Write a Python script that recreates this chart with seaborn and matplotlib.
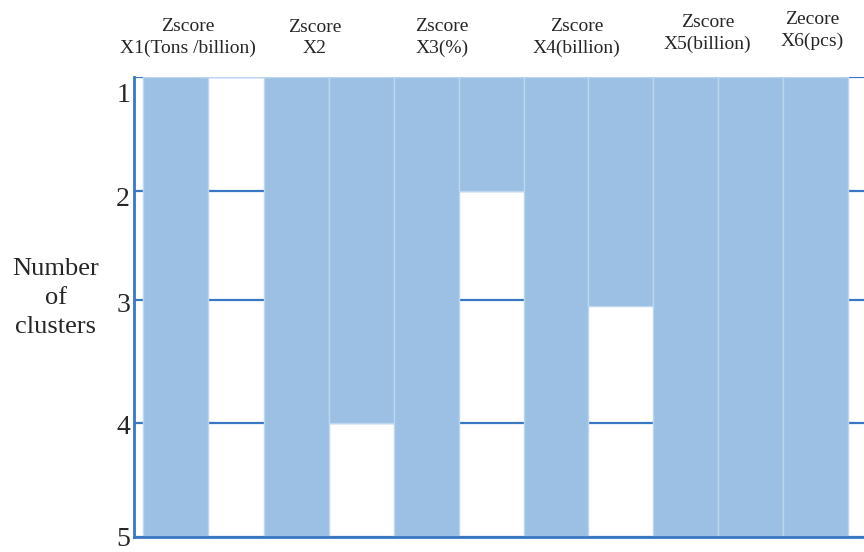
import matplotlib
matplotlib.use("Agg")
import matplotlib.pyplot as plt
import matplotlib.transforms as mtransforms
import seaborn as sns
import numpy as np
import pandas as pd

# Icicle plot of hierarchical clustering: variable columns alternate with
# join columns; each value is the cluster count down to which the column is filled.
columns = ["X1", "X1|X2", "X2", "X2|X3", "X3", "X3|X4", "X4", "X4|X5", "X5", "X5|X6", "X6"]
fill_to = [5, 1, 5, 4, 5, 2, 5, 3.05, 5, 5, 5]

header_labels = [
    "Zscore\nX1(Tons /billion)",
    "Zscore\nX2",
    "Zscore\nX3(%)",
    "Zscore\nX4(billion)",
    "Zscore\nX5(billion)",
    "Zecore\nX6(pcs)",
]
cluster_levels = [1, 2, 3, 4, 5]

df = pd.DataFrame({"column": columns, "level": fill_to})

sns.set_theme(style="white")
plt.rcParams["font.family"] = ["Liberation Serif", "DejaVu Serif"]

fig = plt.figure(figsize=(8.64, 5.52), dpi=100)
ax = fig.add_axes([134 / 864, 1 - 537 / 552, 1 - 134 / 864, (537 - 77) / 552])

line_blue = "#3877C2"
fill_blue = "#9BC0E3"

# row spacing of the icicle is not quite even: piecewise-linear level scale
level_rows = np.array([0.0, 114.0, 223.0, 346.0, 460.0])
levels_arr = np.array(cluster_levels, dtype=float)


def _fwd(v):
    return np.interp(v, levels_arr, level_rows)


def _inv(v):
    return np.interp(v, level_rows, levels_arr)


ax.set_yscale("function", functions=(_fwd, _inv))

sns.barplot(data=df, x="column", y="level", order=columns, width=1.0,
            color=fill_blue, saturation=1, edgecolor="#BCD6EF", linewidth=1.0,
            ax=ax, zorder=3)

# the first variable column sits a little further from the axis
first_col_nudge = 0.136
first_bar = ax.patches[0]
first_bar.set_x(first_bar.get_x() + first_col_nudge)

ax.set_ylim(5, 1)
ax.set_xlim(-0.503, 10.747)
ax.set_yticks(cluster_levels)
ax.set_yticks([], minor=True)
ax.set_yticklabels([])
ax.set_xticks([])
ax.set_xlabel("")
ax.set_ylabel("")

# level labels, set a little below their gridlines
label_drop_px = [18, 9, 5, 5, 2]
for level, drop in zip(cluster_levels, label_drop_px):
    tr = mtransforms.offset_copy(ax.get_yaxis_transform(), fig=fig,
                                 x=-4, y=-drop, units="dots")
    ax.text(0, level, str(level), transform=tr, ha="right", va="center",
            fontsize=20, clip_on=False)

ax.grid(axis="y", which="major", color=line_blue, linewidth=1.6, zorder=1)
ax.set_axisbelow(True)
for side in ["top", "right"]:
    ax.spines[side].set_visible(False)
for side in ["left", "bottom"]:
    ax.spines[side].set_color(line_blue)
    ax.spines[side].set_linewidth(2.0)
    ax.spines[side].set_zorder(4)
ax.tick_params(axis="y", which="both", length=0, left=False)

# Variable headers above their columns
header_x = [0.329, 2.286, 4.243, 6.32, 8.34, 9.945]
header_y = [1.052, 1.052, 1.052, 1.052, 1.061, 1.0675]
for hx, hy, text in zip(header_x, header_y, header_labels):
    ax.text(hx, hy, text, transform=ax.get_xaxis_transform(), ha="center",
            va="baseline", fontsize=14, linespacing=1.33, clip_on=False)

fig.text(56 / 864, 1 - 298 / 552, "Number\nof\nclusters", ha="center",
         va="center", fontsize=19, linespacing=1.44)

fig.savefig("out.png", dpi=100)
